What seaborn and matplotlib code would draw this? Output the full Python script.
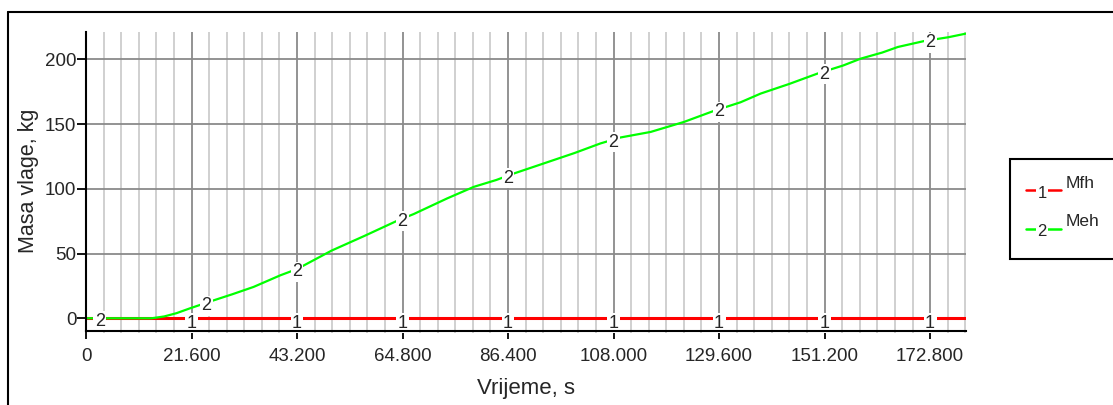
import numpy as np
import pandas as pd
import matplotlib
matplotlib.use("Agg")
import matplotlib.pyplot as plt
from matplotlib.lines import Line2D
from matplotlib.patches import Rectangle
from matplotlib.ticker import MultipleLocator, FuncFormatter
import seaborn as sns

# Time axis (s) and moisture mass (kg)
time_s = [0.0, 13.45, 16.0, 18.5, 21.3, 26.1, 30.0, 34.3, 39.8, 43.2, 50.3, 57.0,
          63.7, 67.1, 73.9, 79.4, 84.0, 87.6, 93.1, 100.0, 105.3, 109.4, 115.6,
          122.4, 128.5, 134.0, 138.1, 144.0, 149.7, 155.0, 158.6, 163.0, 166.2,
          171.6, 176.5, 180.1]
meh_kg = [0.0, 0.0, 1.4, 3.9, 7.7, 13.8, 18.6, 24.2, 33.2, 38.0, 52.3, 63.6,
          75.3, 80.5, 92.5, 101.5, 106.8, 111.8, 118.8, 127.6, 135.0, 139.6, 143.9,
          151.6, 160.1, 166.8, 173.5, 181.0, 188.9, 195.2, 200.5, 205.2, 209.5,
          214.1, 217.0, 219.8]
mfh_kg = [0.0] * len(time_s)

series_names = ["Mfh", "Meh"]
series_marks = ["1", "2"]
series_colors = ["#ff0000", "#00ff00"]

# Positions (s) of the inline series markers
mark1_t = [21.6, 43.2, 64.8, 86.4, 108.0, 129.6, 151.2, 172.8]
mark2_t = [2.8, 24.6, 43.2, 64.8, 86.4, 108.0, 129.6, 151.2, 172.8]

x_major = 21.6
x_minor = 3.6
y_ticks = [0, 50, 100, 150, 200]

df = pd.concat([
    pd.DataFrame({"t": time_s, "m": mfh_kg, "s": series_names[0]}),
    pd.DataFrame({"t": time_s, "m": meh_kg, "s": series_names[1]}),
])

sns.set_theme(style="white")
plt.rcParams["font.family"] = ["Liberation Sans", "DejaVu Sans"]

W, H = 1113, 405
fig = plt.figure(figsize=(W / 100, H / 100), dpi=100)
ax = fig.add_axes([86 / W, 1 - 330.7 / H, 880 / W, 299 / H])

sns.lineplot(data=df, x="t", y="m", hue="s", palette=dict(zip(series_names, series_colors)),
             linewidth=1.8, legend=False, ax=ax)
lines = ax.get_lines()
lines[0].set_zorder(3)
lines[0].set_linewidth(2.2)
lines[1].set_zorder(4)
lines[1].set_linewidth(1.6)

ax.set_xlim(0, 180.15)
ax.set_ylim(-9.6, 221.3)

ax.xaxis.set_major_locator(MultipleLocator(x_major))
ax.xaxis.set_minor_locator(MultipleLocator(x_minor))
ax.xaxis.set_major_formatter(FuncFormatter(lambda v, p: "0" if abs(v) < 1e-9 else f"{v:.3f}"))
ax.set_yticks(y_ticks)

ax.grid(which="major", color="#8a8a8a", linewidth=1.3, zorder=1)
ax.grid(which="minor", axis="x", color="#cdcdcd", linewidth=1.3, zorder=0)
ax.set_axisbelow(True)

for side in ["top", "right"]:
    ax.spines[side].set_visible(False)
for side in ["left", "bottom"]:
    ax.spines[side].set_color("black")
    ax.spines[side].set_linewidth(1.5)
    ax.spines[side].set_zorder(8)

ax.tick_params(axis="x", which="major", direction="out", length=5.5, width=1.3,
               color="black", labelsize=13.5, pad=7, bottom=True)
ax.tick_params(axis="x", which="minor", direction="out", length=1.5, width=1.3,
               color="#cdcdcd", bottom=True)
ax.tick_params(axis="y", which="major", direction="out", length=6.5, width=1.3,
               color="black", labelsize=13.5, pad=0.5, left=True)

ax.set_xlabel("Vrijeme, s", fontsize=16, labelpad=9)
ax.set_ylabel("Masa vlage, kg", fontsize=15.5, labelpad=4)

box = dict(boxstyle="square,pad=0.08", facecolor="white", edgecolor="none")
for t in mark1_t:
    ax.annotate(series_marks[0], (t, np.interp(t, time_s, mfh_kg)), xytext=(0, -3.5),
                textcoords="offset points", ha="center", va="center",
                fontsize=13, bbox=box, zorder=6)
for t in mark2_t:
    ax.annotate(series_marks[1], (t, np.interp(t, time_s, meh_kg)), xytext=(0, -2),
                textcoords="offset points", ha="center", va="center",
                fontsize=13, bbox=box, zorder=6)


def fx(x):
    return x / W


def fy(y):
    return 1 - y / H


# Outer frame
fig.add_artist(Line2D([fx(8), 1.0], [fy(12), fy(12)], color="black", lw=1.5))
fig.add_artist(Line2D([fx(8), fx(8)], [fy(12), 0.0], color="black", lw=1.5))

# Legend box (open to the right edge)
fig.add_artist(Rectangle((fx(1010), fy(259)), fx(1130) - fx(1010), fy(159) - fy(259),
                         transform=fig.transFigure, facecolor="white",
                         edgecolor="black", lw=1.5, clip_on=False))
for i, (name, mark, col) in enumerate(zip(series_names, series_marks, series_colors)):
    ly = 190.5 + i * 38.5
    fig.add_artist(Line2D([fx(1026), fx(1061)], [fy(ly), fy(ly)], color=col, lw=1.8))
    fig.text(fx(1042), fy(ly + 3), mark, ha="center", va="center", fontsize=12,
             bbox=dict(boxstyle="square,pad=0.1", facecolor="white", edgecolor="none"))
    fig.text(fx(1066), fy(ly - 7), name, ha="left", va="center", fontsize=12.5)

fig.savefig("out.png", dpi=100)
